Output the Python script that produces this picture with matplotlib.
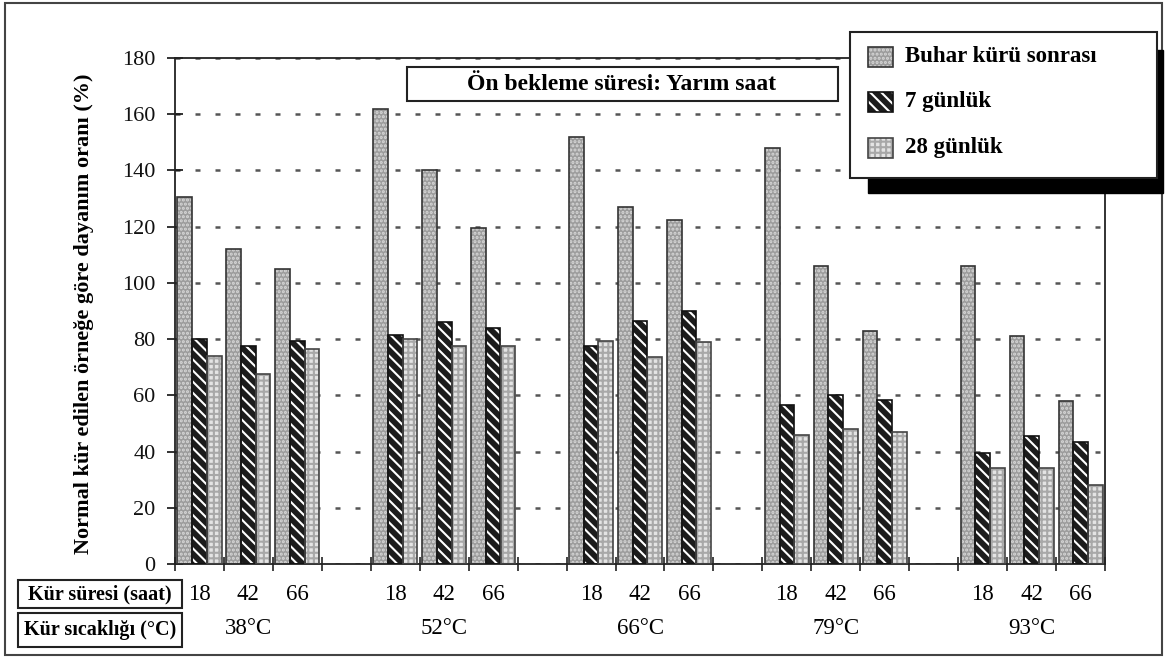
import matplotlib
matplotlib.use("Agg")
import matplotlib.pyplot as plt
from matplotlib.patches import Rectangle
from matplotlib.transforms import blended_transform_factory
import numpy as np

plt.rcParams['font.family'] = ['Liberation Serif', 'DejaVu Serif']
plt.rcParams['hatch.linewidth'] = 1.5

# data
sicaklik = ['38°C', '52°C', '66°C', '79°C', '93°C']
sure = ['18', '42', '66']
seriler = ['Buhar kürü sonrası', '7 günlük', '28 günlük']

buhar = [[130.5, 112, 105], [162, 140, 119.5], [152, 127, 122.5],
         [148, 106, 83], [106, 81, 58]]
gun7 = [[80, 77.5, 79.5], [81.5, 86, 84], [77.5, 86.5, 90],
        [56.5, 60, 58.5], [39.5, 45.5, 43.5]]
gun28 = [[74, 67.5, 76.5], [80, 77.5, 77.5], [79.5, 73.5, 79],
         [46, 48, 47], [34, 34, 28]]

W, H = 1167, 662


def px(x, y):
    # pixel position -> figure coords
    return x / W, 1 - y / H


fig = plt.figure(figsize=(W / 100, H / 100), dpi=100)
ax = fig.add_axes([175 / W, (H - 564) / H, (1105 - 175) / W, (564 - 58) / H])

# styles: (face, hatch, hatch colour, outline)
stil = [('#9c9c9c', '....', '#d8d8d8', '#333333'),
        ('#1c1c1c', '\\\\\\', 'white', '#111111'),
        ('#e4e4e4', '+++', '#a8a8a8', '#444444')]

degerler = [np.array(buhar), np.array(gun7), np.array(gun28)]
bw = 0.3
for g in range(len(sicaklik)):
    for p in range(len(sure)):
        slot = g * 4 + p
        for s in range(3):
            xc = slot + 0.2 + s * 0.3
            v = degerler[s][g, p]
            fc, ht, hc, ec = stil[s]
            ax.bar(xc, v, width=bw, color=fc, hatch=ht, edgecolor=hc,
                   linewidth=0, zorder=2)
            ax.bar(xc, v, width=bw, fill=False, edgecolor=ec,
                   linewidth=1.2, zorder=3)

ax.set_xlim(0, 19)
ax.set_ylim(0, 180)
ax.set_yticks(np.arange(0, 181, 20))
ax.set_xticks(np.arange(0, 20))
ax.set_xticklabels([])
ax.tick_params(axis='y', direction='inout', length=12, width=1.2,
               labelsize=16, pad=8, colors='#111111')
ax.tick_params(axis='x', direction='inout', length=10, width=1.2,
               colors='#222222')
ax.yaxis.grid(True, linestyle=(0, (2, 6)), linewidth=1.8, color='#555555')
ax.set_axisbelow(True)
for sp in ax.spines.values():
    sp.set_linewidth(1.3)
    sp.set_color('#222222')

# bottom labels
tr = blended_transform_factory(ax.transData, fig.transFigure)
for g in range(len(sicaklik)):
    for p in range(len(sure)):
        ax.text(g * 4 + p + 0.5, 1 - 594 / H, sure[p], transform=tr,
                ha='center', va='center', fontsize=16.5)
    ax.text(g * 4 + 1.5, 1 - 628 / H, sicaklik[g], transform=tr,
            ha='center', va='center', fontsize=16.5)

# y label
fig.text(*px(84, 314), 'Normal kür edilen örneğe göre dayanım oranı (%)',
         rotation=90, ha='center', va='center', fontsize=16,
         fontweight='bold')

# note box
x0, y0 = px(407, 101)
fig.add_artist(Rectangle((x0, y0), (838 - 407) / W, (101 - 67) / H,
                         transform=fig.transFigure, facecolor='white',
                         edgecolor='#222222', linewidth=1.5, zorder=5))
fig.text(*px(622, 85), 'Ön bekleme süresi: Yarım saat', ha='center',
         va='center', fontsize=17, fontweight='bold', zorder=6)

# legend with black shadow
sx, sy = px(868, 193)
fig.add_artist(Rectangle((sx, sy), (1163 - 868) / W, (193 - 50) / H,
                         transform=fig.transFigure, facecolor='black',
                         edgecolor='black', zorder=5))
lx, ly = px(850, 178)
fig.add_artist(Rectangle((lx, ly), (1157 - 850) / W, (178 - 32) / H,
                         transform=fig.transFigure, facecolor='white',
                         edgecolor='#222222', linewidth=1.5, zorder=6))
for i, yy in enumerate([57, 102, 148]):
    fc, ht, hc, ec = stil[i]
    bx, by = px(868, yy + 10)
    fig.add_artist(Rectangle((bx, by), 25 / W, 20 / H,
                             transform=fig.transFigure, facecolor=fc,
                             hatch=ht, edgecolor=hc, linewidth=0, zorder=7))
    fig.add_artist(Rectangle((bx, by), 25 / W, 20 / H,
                             transform=fig.transFigure, fill=False,
                             edgecolor=ec, linewidth=1.2, zorder=8))
    fig.text(*px(905, yy), seriler[i], ha='left', va='center',
             fontsize=16.5, fontweight='bold', zorder=8)

# table boxes at the bottom left
satirlar = ['Kür süresi (saat)', 'Kür sıcaklığı (°C)']
for (ya, yb), t in zip([(580, 608), (613, 647)], satirlar):
    bx, by = px(18, yb)
    fig.add_artist(Rectangle((bx, by), (182 - 18) / W, (yb - ya) / H,
                             transform=fig.transFigure, fill=False,
                             edgecolor='#222222', linewidth=1.5))
    fig.text(*px(100, (ya + yb) / 2), t, ha='center', va='center',
             fontsize=14.5, fontweight='bold')

# outer frame
fx, fy = px(5, 655)
fig.add_artist(Rectangle((fx, fy), (1162 - 5) / W, (655 - 3) / H,
                         transform=fig.transFigure, fill=False,
                         edgecolor='#444444', linewidth=1.5))

fig.savefig('out.png', dpi=100)
